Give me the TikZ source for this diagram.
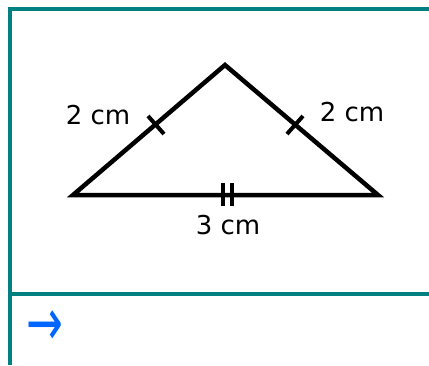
\documentclass[tikz,border=0pt]{standalone}
\usepackage{fontspec}
\setmainfont{DejaVu Sans}
\usetikzlibrary{calc}
\definecolor{teal80}{RGB}{0,128,128}
\definecolor{arrowblue}{RGB}{0,102,255}
\begin{document}
\begin{tikzpicture}[x=1pt,y=-1pt,
  frame/.style={draw=teal80,line width=4.5pt},
  tri/.style={draw=black,line width=4.5pt,line join=miter},
  tick/.style={draw=black,line width=4pt},
  lbl/.style={font=\fontsize{26}{30}\selectfont,inner sep=0pt}]
\useasboundingbox (0,0) rectangle (429,365);
% frame
\coordinate (tl) at (8,9);
\coordinate (tr) at (429,9);
\coordinate (lt) at (10,7);
\coordinate (bl) at (10,365);
\coordinate (dl) at (10,294);
\coordinate (dr) at (429,294);
\draw[frame] (tl) -- (tr);
\draw[frame] (lt) -- (bl);
\draw[frame] (dl) -- (dr);
% triangle
\coordinate (A) at (73,195);
\coordinate (B) at (378,195);
\coordinate (C) at (225,65);
\draw[tri] (A) -- (C) -- (B) -- cycle;
% tick marks
\coordinate (m1) at (156,125);
\coordinate (m2) at (295,125);
\draw[tick] ($(m1)+(-8,-9)$) -- ($(m1)+(8,9)$);
\draw[tick] ($(m2)+(8,-9)$) -- ($(m2)+(-8,9)$);
\draw[tick] (222.5,183) -- (222.5,206);
\draw[tick] (231.5,183) -- (231.5,206);
% labels
\node[lbl] (l1) at (98,115) {2 cm};
\node[lbl] (l2) at (352,112) {2 cm};
\node[lbl] (l3) at (228,225) {3 cm};
\node[text=arrowblue,font=\fontsize{44}{48}\selectfont,inner sep=0pt] (arr) at (45,328) {\scalebox{1}[1.5]{→}};
\end{tikzpicture}
\end{document}
